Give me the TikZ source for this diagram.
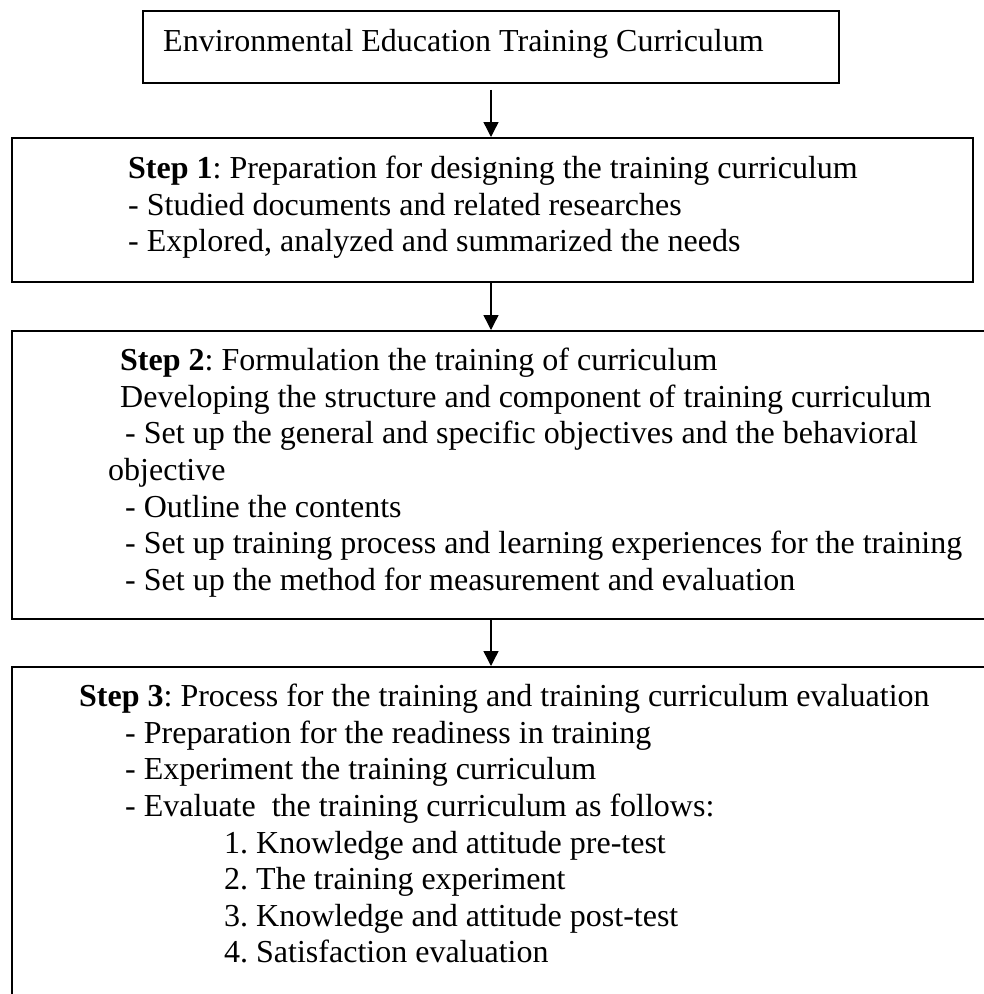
\documentclass[tikz,border=0pt]{standalone}
\usepackage{fontspec}
\setmainfont{Liberation Serif}
\usetikzlibrary{arrows.meta}
\frenchspacing
\begin{document}
\begin{tikzpicture}[x=1pt,y=-1pt,
  box/.style={draw, line width=1.8pt, anchor=north west, inner sep=0pt},
  tx/.style={anchor=base west, inner sep=0pt, font=\fontsize{32pt}{36.6pt}\selectfont},
  arr/.style={line width=1.4pt, -{Triangle[length=15pt,width=15pt]}}]
\useasboundingbox (0,0) rectangle (984,994);
\clip (0,0) rectangle (984,994);
% boxes
\node[box, minimum width=696pt, minimum height=72pt] (b0) at (142,10) {};
\node[box, minimum width=961pt, minimum height=144pt] (b1) at (11,137) {};
\node[box, minimum width=1000pt, minimum height=288pt] (b2) at (11,330) {};
\node[box, minimum width=1000pt, minimum height=400pt] (b3) at (11,666) {};
% arrow axis
\coordinate (ax) at (491,0);
% texts
\node[tx] (t0) at (163,51) {Environmental Education Training Curriculum};

\node[tx] (t11) at (128,178) {\textbf{Step 1}: Preparation for designing the training curriculum};
\node[tx] (t12) at (128,215) {- Studied documents and related researches};
\node[tx] (t13) at (128,251) {- Explored, analyzed and summarized the needs};

\node[tx] (t21) at (120,370) {\textbf{Step 2}: Formulation the training of curriculum};
\node[tx] (t22) at (120,407) {Developing the structure and component of training curriculum};
\node[tx] (t23) at (125,443) {- Set up the general and specific objectives and the behavioral};
\node[tx] (t24) at (108,480) {objective};
\node[tx] (t25) at (125,517) {- Outline the contents};
\node[tx] (t26) at (125,553) {- Set up training process and learning experiences for the training};
\node[tx] (t27) at (125,590) {- Set up the method for measurement and evaluation};

\node[tx] (t31) at (79,706) {\textbf{Step 3}: Process for the training and training curriculum evaluation};
\node[tx] (t32) at (125,743) {- Preparation for the readiness in training};
\node[tx] (t33) at (125,779) {- Experiment the training curriculum};
\node[tx] (t34) at (125,816) {- Evaluate\ \ the training curriculum as follows:};
\node[tx] (t35) at (224,853) {1. Knowledge and attitude pre-test};
\node[tx] (t36) at (224,889) {2. The training experiment};
\node[tx] (t37) at (224,926) {3. Knowledge and attitude post-test};
\node[tx] (t38) at (224,962) {4. Satisfaction evaluation};
% arrows
\draw[arr] ([yshift=-6pt]ax |- b0.south) -- (ax |- b1.north);
\draw[arr] (ax |- b1.south) -- (ax |- b2.north);
\draw[arr] (ax |- b2.south) -- (ax |- b3.north);
\end{tikzpicture}
\end{document}
